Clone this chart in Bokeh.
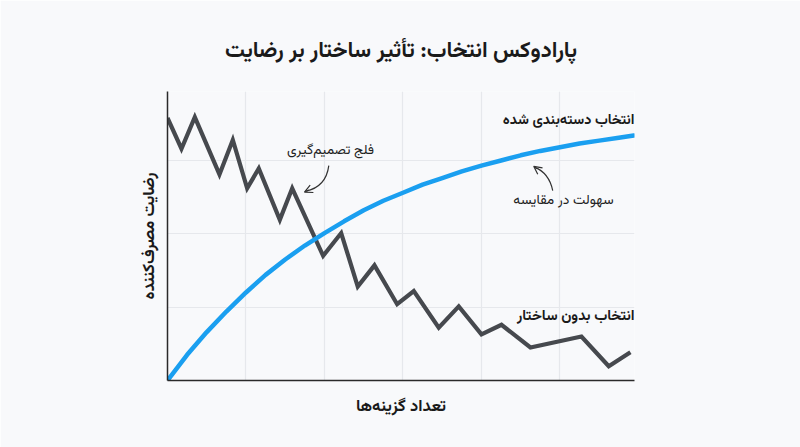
from bokeh.plotting import figure
from bokeh.models import Label, Arrow, OpenHead, FixedTicker, Range1d
from bokeh.embed import file_html
from bokeh.resources import INLINE

# ---- data ----
unstructured_x = [0.0, 0.178, 0.348, 0.662, 0.832, 1.015, 1.163, 1.431, 1.589, 1.983,
                  2.213, 2.424, 2.637, 2.926, 3.138, 3.456, 3.711, 4.0, 4.255, 4.624,
                  5.274, 5.622, 5.898]
unstructured_y = [3.58, 3.16, 3.59, 2.81, 3.28, 2.62, 2.89, 2.19, 2.62, 1.70,
                  2.01, 1.28, 1.57, 1.04, 1.22, 0.72, 1.01, 0.63, 0.76, 0.45,
                  0.60, 0.195, 0.386]

structured_x = [0.0, 0.25, 0.5, 0.75, 1.0, 1.25, 1.5, 1.75, 2.0, 2.25, 2.5, 2.75, 3.0,
                3.25, 3.5, 3.75, 4.0, 4.25, 4.5, 4.75, 5.0, 5.25, 5.5, 5.75, 5.94]
structured_y = [0.0, 0.35, 0.66, 0.94, 1.20, 1.44, 1.65, 1.84, 2.01, 2.17, 2.32, 2.45, 2.56,
                2.67, 2.76, 2.85, 2.93, 3.00, 3.07, 3.13, 3.18, 3.23, 3.27, 3.31, 3.34]

x_grid = [1, 2, 3, 4, 5]
y_grid = [1, 2, 3]

title_text = "پارادوکس انتخاب: تأثیر ساختار بر رضایت"
x_label = "تعداد گزینه‌ها"
y_label = "رضایت مصرف‌کننده"
label_structured = "انتخاب دسته‌بندی شده"
label_unstructured = "انتخاب بدون ساختار"
note_paralysis = "فلج تصمیم‌گیری"
note_ease = "سهولت در مقایسه"

FONT = "Vazirmatn, 'Noto Sans Arabic', 'DejaVu Sans'"
BG = "#f8f9fb"
GRAY = "#46494e"
BLUE = "#1a9ff0"
TXT = "#1a1a1a"

p = figure(width=800, height=447, output_backend="svg", toolbar_location=None,
           x_range=Range1d(0, 5.95), y_range=Range1d(0, 3.94),
           min_border_left=167, min_border_right=166, min_border_top=91, min_border_bottom=67)
p.background_fill_color = BG
p.border_fill_color = BG
p.outline_line_color = None

p.title.text = title_text
p.title.align = "center"
p.title.text_font = FONT
p.title.text_font_size = "22px"
p.title.text_font_style = "bold"
p.title.text_color = TXT
p.title.standoff = 46

for ax in (p.xaxis, p.yaxis):
    ax.ticker = FixedTicker(ticks=[])
    ax.major_tick_line_color = None
    ax.minor_tick_line_color = None
    ax.axis_line_color = "#2a2a2a"
    ax.axis_line_width = 1.5
    ax.axis_label_text_font = FONT
    ax.axis_label_text_font_size = "16.5px"
    ax.axis_label_text_font_style = "bold"
    ax.axis_label_text_color = TXT
    ax.major_label_standoff = 0

p.xaxis.axis_label = x_label
p.yaxis.axis_label = y_label
p.xaxis.axis_label_standoff = 13
p.yaxis.axis_label_standoff = 5

p.xgrid.ticker = FixedTicker(ticks=x_grid)
p.ygrid.ticker = FixedTicker(ticks=y_grid)
p.grid.grid_line_color = "#e6e8ec"
p.grid.grid_line_width = 1.2

p.line(unstructured_x, unstructured_y, line_color=GRAY, line_width=4.2, line_join="miter")
p.line(structured_x, structured_y, line_color=BLUE, line_width=4.5, line_cap="round")

# annotation arrows (curved stems + small heads)
p.quadratic(x0=[2.055], y0=[2.93], x1=[1.76], y1=[2.58], cx=[2.02], cy=[2.64],
            line_color="#333333", line_width=1.2)
p.add_layout(Arrow(end=OpenHead(size=8, line_color="#333333", line_width=1.2),
                   x_start=1.80, y_start=2.595, x_end=1.745, y_end=2.569,
                   line_color="#333333", line_width=1.2))
p.quadratic(x0=[4.908], y0=[2.59], x1=[4.68], y1=[2.905], cx=[4.86], cy=[2.83],
            line_color="#333333", line_width=1.2)
p.add_layout(Arrow(end=OpenHead(size=8, line_color="#333333", line_width=1.2),
                   x_start=4.71, y_start=2.885, x_end=4.666, y_end=2.92,
                   line_color="#333333", line_width=1.2))

p.add_layout(Label(x=2.076, y=3.135, text=note_paralysis, text_align="center",
                   text_baseline="middle", text_font=FONT, text_font_size="13.6px",
                   text_color="#222222"))
p.add_layout(Label(x=5.045, y=2.456, text=note_ease, text_align="center",
                   text_baseline="middle", text_font=FONT, text_font_size="13.8px",
                   text_color="#222222"))
p.add_layout(Label(x=5.95, y=3.547, text=label_structured, text_align="right",
                   text_baseline="middle", text_font=FONT, text_font_size="14.3px",
                   text_font_style="bold", text_color=TXT))
p.add_layout(Label(x=5.95, y=0.873, text=label_unstructured, text_align="right",
                   text_baseline="middle", text_font=FONT, text_font_size="14.6px",
                   text_font_style="bold", text_color=TXT))

open("out.html", "w").write(file_html(p, INLINE))
